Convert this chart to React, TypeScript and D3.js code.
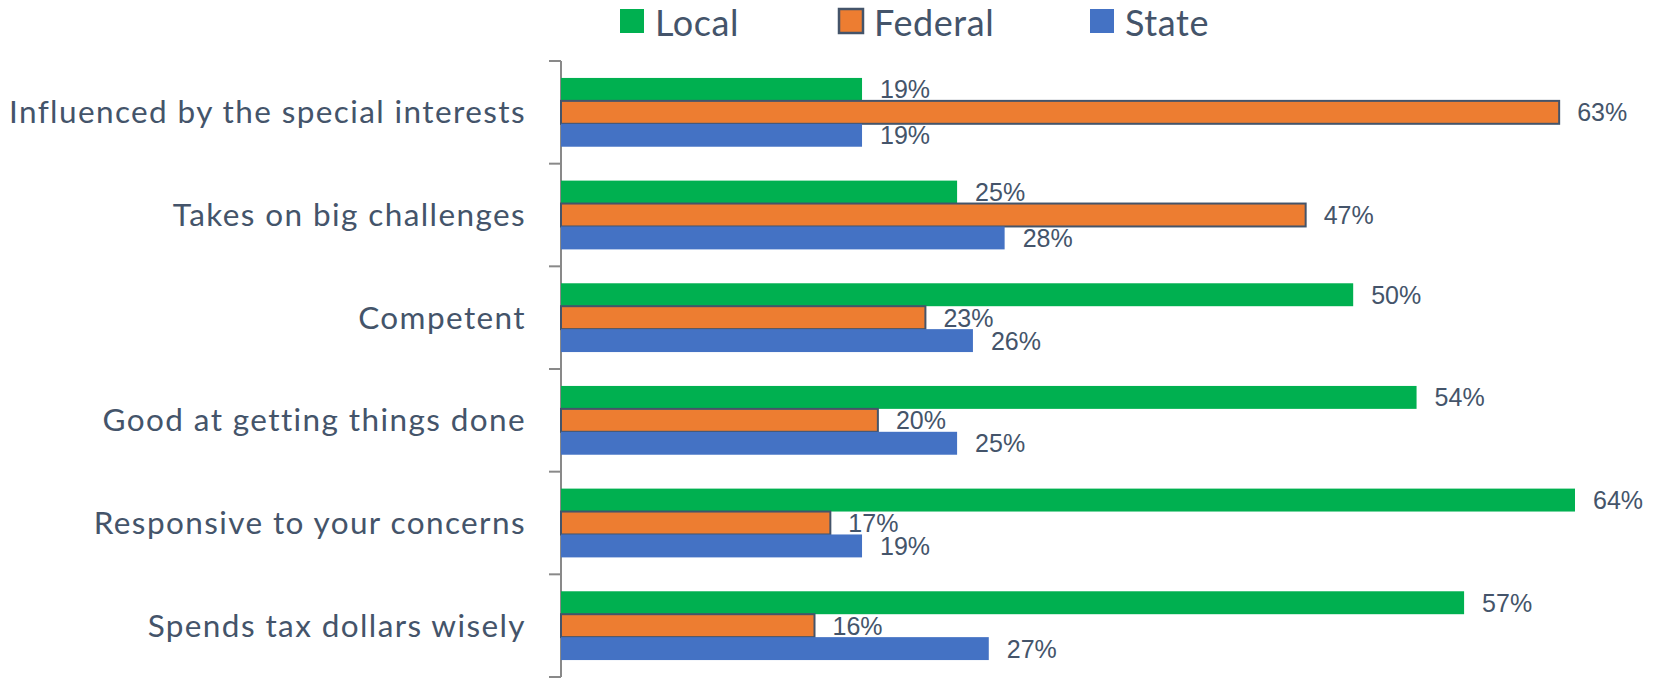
import React from "react";
import * as d3 from "d3";

const categories = [
  "Influenced by the special interests",
  "Takes on big challenges",
  "Competent",
  "Good at getting things done",
  "Responsive to your concerns",
  "Spends tax dollars wisely",
];

const series = ["Local", "Federal", "State"];

const localValues = [19, 25, 50, 54, 64, 57];
const federalValues = [63, 47, 23, 20, 17, 16];
const stateValues = [19, 28, 26, 25, 19, 27];

const colors = { Local: "#00B050", Federal: "#ED7D31", State: "#4472C4" };
const textColor = "#44546A";

const width = 1665;
const height = 678;
const margin = { top: 61, right: 90, bottom: 1, left: 561 };

const App = () => {
  const valuesBySeries = {
    Local: localValues,
    Federal: federalValues,
    State: stateValues,
  };

  const x = d3
    .scaleLinear()
    .domain([0, 64])
    .range([margin.left, 1575]);

  const y = d3
    .scaleBand()
    .domain(categories)
    .range([margin.top, height - margin.bottom])
    .paddingInner(0.33)
    .paddingOuter(0.165);

  const ySub = d3.scaleBand().domain(series).range([0, y.bandwidth()]);

  const step = y.step();
  const tickYs = d3.range(categories.length + 1).map((i) => margin.top + i * step);

  // legend positions
  const legend = [
    { name: "Local", x: 620 },
    { name: "Federal", x: 839 },
    { name: "State", x: 1090 },
  ];

  return (
    <div style={{ position: "absolute", left: 0, top: 0 }}>
      <svg width={width} height={height} style={{ display: "block", background: "#fff" }}>
        {/* legend */}
        {legend.map((l) => (
          <g key={l.name}>
            <rect
              x={l.x}
              y={9}
              width={24}
              height={24}
              fill={colors[l.name]}
              stroke={l.name === "Federal" ? textColor : "none"}
              strokeWidth={2.5}
            />
            <text
              x={l.x + 35}
              y={36}
              fontFamily="Lato, 'Open Sans', sans-serif"
              fontSize={36}
              letterSpacing={0.6}
              fill={textColor}
            >
              {l.name}
            </text>
          </g>
        ))}

        {/* axis */}
        <line
          x1={margin.left}
          x2={margin.left}
          y1={tickYs[0]}
          y2={tickYs[tickYs.length - 1]}
          stroke="#898989"
          strokeWidth={2}
        />
        {tickYs.map((t, i) => (
          <line
            key={i}
            x1={margin.left - 12}
            x2={margin.left}
            y1={t}
            y2={t}
            stroke="#898989"
            strokeWidth={2}
          />
        ))}

        {/* bars */}
        {categories.map((c, ci) => (
          <g key={c}>
            {series.map((s) => {
              const v = valuesBySeries[s][ci];
              const by = y(c) + ySub(s);
              const bh = ySub.bandwidth();
              return (
                <g key={s}>
                  <rect
                    x={x(0)}
                    y={by}
                    width={x(v) - x(0)}
                    height={bh}
                    fill={colors[s]}
                    stroke={s === "Federal" ? textColor : "none"}
                    strokeWidth={s === "Federal" ? 2 : 0}
                  />
                  <text
                    x={x(v) + 18}
                    y={by + bh / 2}
                    dy="0.36em"
                    fontFamily="'Liberation Sans', Arial, sans-serif"
                    fontSize={25}
                    fill={textColor}
                  >
                    {v}%
                  </text>
                </g>
              );
            })}
            <text
              x={margin.left - 35}
              y={y(c) + y.bandwidth() / 2}
              dy="0.35em"
              textAnchor="end"
              fontFamily="Lato, 'Open Sans', sans-serif"
              fontSize={31.5}
              letterSpacing={1.4}
              fill={textColor}
            >
              {c}
            </text>
          </g>
        ))}
      </svg>
    </div>
  );
};

export default App;
